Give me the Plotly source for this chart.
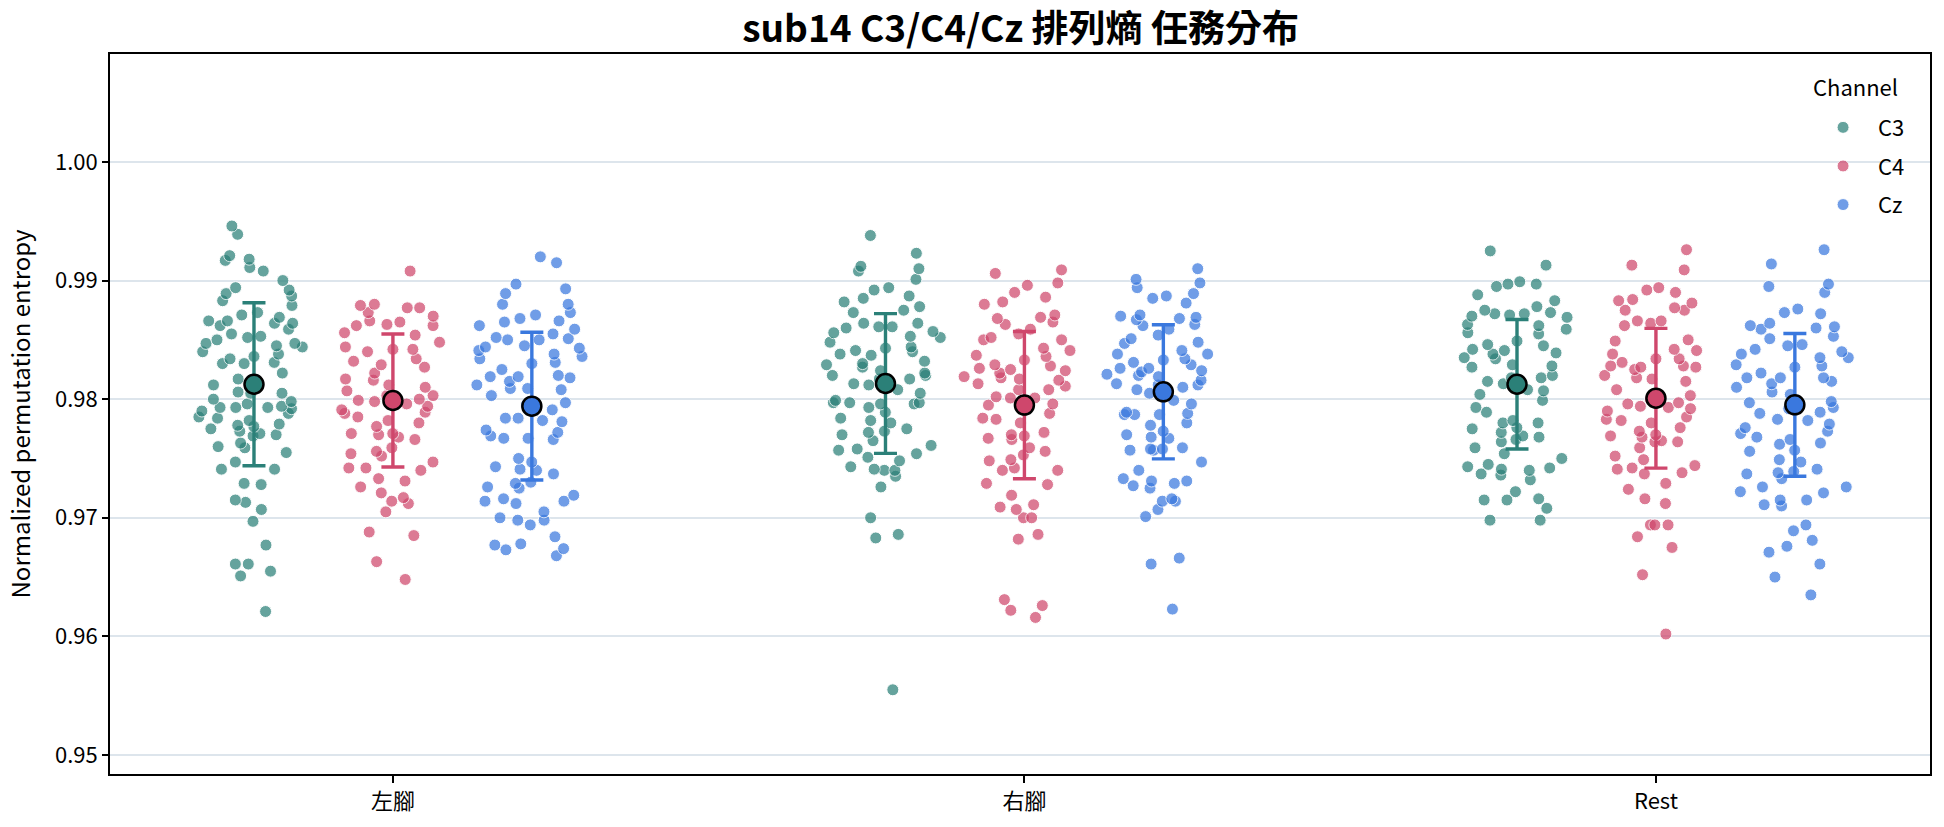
import plotly.graph_objects as go

# ---------------- data ----------------
tasks = ["左腳", "右腳", "Rest"]
channels = ["C3", "C4", "Cz"]

left_C3 = [0.9946, 0.9939, 0.9921, 0.9918, 0.9917, 0.9911, 0.9908, 0.9900, 0.9894, 0.9892,
           0.9889, 0.9887, 0.9883, 0.9879, 0.9873, 0.9871, 0.9869, 0.9866, 0.9866, 0.9864,
           0.9864, 0.9862, 0.9859, 0.9855, 0.9853, 0.9852, 0.9850, 0.9847, 0.9847, 0.9845,
           0.9844, 0.9840, 0.9838, 0.9836, 0.9834, 0.9831, 0.9830, 0.9830, 0.9822, 0.9817,
           0.9812, 0.9806, 0.9805, 0.9805, 0.9800, 0.9798, 0.9796, 0.9794, 0.9793, 0.9793,
           0.9793, 0.9792, 0.9790, 0.9788, 0.9785, 0.9784, 0.9782, 0.9779, 0.9778, 0.9777,
           0.9775, 0.9773, 0.9771, 0.9770, 0.9769, 0.9763, 0.9760, 0.9759, 0.9755, 0.9747,
           0.9741, 0.9741, 0.9729, 0.9728, 0.9715, 0.9713, 0.9707, 0.9697, 0.9677, 0.9661,
           0.9661, 0.9655, 0.9651, 0.9621]
left_C4 = [0.9908, 0.9879, 0.9880, 0.9877, 0.9877, 0.9873, 0.9870, 0.9866, 0.9865, 0.9863,
           0.9862, 0.9862, 0.9856, 0.9854, 0.9848, 0.9844, 0.9842, 0.9842, 0.9840, 0.9834,
           0.9832, 0.9829, 0.9827, 0.9822, 0.9817, 0.9816, 0.9812, 0.9810, 0.9807, 0.9803,
           0.9803, 0.9800, 0.9799, 0.9798, 0.9796, 0.9794, 0.9791, 0.9789, 0.9788, 0.9785,
           0.9782, 0.9780, 0.9777, 0.9771, 0.9771, 0.9770, 0.9768, 0.9766, 0.9759, 0.9756,
           0.9754, 0.9752, 0.9747, 0.9742, 0.9742, 0.9740, 0.9733, 0.9731, 0.9726, 0.9721,
           0.9717, 0.9714, 0.9712, 0.9705, 0.9688, 0.9685, 0.9663, 0.9648]
left_Cz = [0.9920, 0.9915, 0.9897, 0.9893, 0.9889, 0.9880, 0.9880, 0.9873, 0.9871, 0.9868,
           0.9866, 0.9865, 0.9862, 0.9859, 0.9855, 0.9852, 0.9851, 0.9850, 0.9850, 0.9845,
           0.9844, 0.9843, 0.9841, 0.9838, 0.9836, 0.9834, 0.9831, 0.9830, 0.9825, 0.9820,
           0.9819, 0.9819, 0.9818, 0.9815, 0.9812, 0.9809, 0.9809, 0.9808, 0.9803, 0.9797,
           0.9795, 0.9791, 0.9784, 0.9784, 0.9782, 0.9781, 0.9774, 0.9772, 0.9769, 0.9767,
           0.9767, 0.9766, 0.9750, 0.9747, 0.9743, 0.9741, 0.9740, 0.9737, 0.9730, 0.9729,
           0.9726, 0.9725, 0.9719, 0.9716, 0.9714, 0.9714, 0.9712, 0.9705, 0.9700, 0.9698,
           0.9698, 0.9694, 0.9684, 0.9678, 0.9677, 0.9674, 0.9673, 0.9668]
right_C3 = [0.9938, 0.9923, 0.9912, 0.9910, 0.9908, 0.9901, 0.9894, 0.9892, 0.9887, 0.9885,
            0.9882, 0.9878, 0.9875, 0.9873, 0.9864, 0.9864, 0.9861, 0.9861, 0.9860, 0.9857,
            0.9856, 0.9853, 0.9852, 0.9848, 0.9844, 0.9843, 0.9841, 0.9840, 0.9838, 0.9837,
            0.9832, 0.9830, 0.9829, 0.9827, 0.9824, 0.9822, 0.9820, 0.9820, 0.9817, 0.9817,
            0.9813, 0.9812, 0.9808, 0.9805, 0.9799, 0.9797, 0.9797, 0.9797, 0.9796, 0.9796,
            0.9793, 0.9789, 0.9784, 0.9782, 0.9780, 0.9775, 0.9773, 0.9772, 0.9770, 0.9765,
            0.9761, 0.9758, 0.9757, 0.9754, 0.9751, 0.9748, 0.9743, 0.9741, 0.9740, 0.9740,
            0.9735, 0.9726, 0.9700, 0.9686, 0.9683, 0.9555]
right_C4 = [0.9909, 0.9906, 0.9898, 0.9896, 0.9890, 0.9886, 0.9882, 0.9880, 0.9871, 0.9869,
            0.9868, 0.9865, 0.9863, 0.9859, 0.9855, 0.9852, 0.9850, 0.9850, 0.9843, 0.9841,
            0.9837, 0.9836, 0.9833, 0.9829, 0.9828, 0.9826, 0.9825, 0.9824, 0.9822, 0.9819,
            0.9818, 0.9817, 0.9816, 0.9813, 0.9811, 0.9808, 0.9808, 0.9802, 0.9801, 0.9801,
            0.9796, 0.9795, 0.9788, 0.9784, 0.9783, 0.9780, 0.9772, 0.9770, 0.9769, 0.9767,
            0.9766, 0.9759, 0.9756, 0.9753, 0.9749, 0.9748, 0.9742, 0.9740, 0.9740, 0.9729,
            0.9728, 0.9719, 0.9711, 0.9709, 0.9707, 0.9700, 0.9700, 0.9686, 0.9682, 0.9631,
            0.9626, 0.9622, 0.9616]
right_Cz = [0.9910, 0.9901, 0.9898, 0.9894, 0.9889, 0.9887, 0.9885, 0.9881, 0.9871, 0.9870,
            0.9869, 0.9868, 0.9867, 0.9863, 0.9862, 0.9859, 0.9854, 0.9851, 0.9848, 0.9847,
            0.9841, 0.9838, 0.9838, 0.9834, 0.9833, 0.9831, 0.9829, 0.9826, 0.9826, 0.9824,
            0.9823, 0.9821, 0.9820, 0.9819, 0.9816, 0.9813, 0.9812, 0.9812, 0.9810, 0.9808,
            0.9805, 0.9799, 0.9796, 0.9789, 0.9788, 0.9787, 0.9787, 0.9787, 0.9780, 0.9778,
            0.9773, 0.9770, 0.9768, 0.9767, 0.9759, 0.9758, 0.9758, 0.9757, 0.9757, 0.9747,
            0.9740, 0.9733, 0.9731, 0.9731, 0.9729, 0.9727, 0.9725, 0.9716, 0.9714, 0.9714,
            0.9707, 0.9701, 0.9666, 0.9661, 0.9623]
rest_C3 = [0.9925, 0.9913, 0.9899, 0.9897, 0.9897, 0.9895, 0.9888, 0.9883, 0.9878, 0.9875,
           0.9873, 0.9872, 0.9872, 0.9871, 0.9870, 0.9869, 0.9863, 0.9862, 0.9859, 0.9856,
           0.9855, 0.9849, 0.9846, 0.9845, 0.9842, 0.9841, 0.9839, 0.9838, 0.9835, 0.9834,
           0.9829, 0.9828, 0.9827, 0.9820, 0.9818, 0.9818, 0.9815, 0.9813, 0.9808, 0.9807,
           0.9804, 0.9799, 0.9793, 0.9789, 0.9782, 0.9780, 0.9780, 0.9776, 0.9775, 0.9772,
           0.9769, 0.9768, 0.9766, 0.9764, 0.9759, 0.9754, 0.9750, 0.9745, 0.9743, 0.9742,
           0.9741, 0.9740, 0.9737, 0.9736, 0.9732, 0.9722, 0.9716, 0.9715, 0.9715, 0.9708,
           0.9698, 0.9698]
rest_C4 = [0.9926, 0.9913, 0.9909, 0.9894, 0.9892, 0.9890, 0.9884, 0.9883, 0.9881, 0.9877,
           0.9875, 0.9875, 0.9866, 0.9866, 0.9864, 0.9862, 0.9850, 0.9849, 0.9842, 0.9841,
           0.9838, 0.9834, 0.9834, 0.9831, 0.9828, 0.9828, 0.9827, 0.9827, 0.9825, 0.9820,
           0.9818, 0.9817, 0.9815, 0.9808, 0.9803, 0.9800, 0.9797, 0.9796, 0.9794, 0.9793,
           0.9792, 0.9790, 0.9785, 0.9783, 0.9782, 0.9780, 0.9776, 0.9773, 0.9770, 0.9769,
           0.9768, 0.9765, 0.9764, 0.9764, 0.9759, 0.9752, 0.9749, 0.9744, 0.9742, 0.9741,
           0.9738, 0.9737, 0.9729, 0.9724, 0.9716, 0.9712, 0.9694, 0.9694, 0.9694, 0.9684,
           0.9675, 0.9652, 0.9602]
rest_Cz = [0.9926, 0.9914, 0.9897, 0.9895, 0.9890, 0.9876, 0.9873, 0.9872, 0.9864, 0.9862,
           0.9861, 0.9860, 0.9859, 0.9853, 0.9851, 0.9846, 0.9845, 0.9842, 0.9840, 0.9838,
           0.9835, 0.9835, 0.9829, 0.9828, 0.9827, 0.9822, 0.9818, 0.9818, 0.9818, 0.9815,
           0.9813, 0.9810, 0.9806, 0.9804, 0.9798, 0.9797, 0.9793, 0.9792, 0.9789, 0.9788,
           0.9783, 0.9782, 0.9779, 0.9776, 0.9773, 0.9771, 0.9768, 0.9766, 0.9763, 0.9762,
           0.9757, 0.9756, 0.9749, 0.9747, 0.9741, 0.9739, 0.9738, 0.9737, 0.9733, 0.9726,
           0.9726, 0.9722, 0.9721, 0.9715, 0.9715, 0.9711, 0.9710, 0.9694, 0.9689, 0.9681,
           0.9676, 0.9671, 0.9661, 0.9650, 0.9635]

# means and standard deviations (per channel, in task order)
mean_C3 = [0.98126, 0.98132, 0.98126]
mean_C4 = [0.97989, 0.97950, 0.98008]
mean_Cz = [0.97941, 0.98062, 0.97952]
sd_C3 = [0.00687, 0.00589, 0.00546]
sd_C4 = [0.00561, 0.00621, 0.00589]
sd_Cz = [0.00623, 0.00565, 0.00602]

# ---------------- styling ----------------
colors = {"C3": "#2b8078", "C4": "#cf476c", "Cz": "#3a78de"}
hue_offset = {"C3": -0.22, "C4": 0.0, "Cz": 0.22}
FONT = "Noto Sans CJK TC, Noto Sans, sans-serif"

points = {
    "C3": [left_C3, right_C3, rest_C3],
    "C4": [left_C4, right_C4, rest_C4],
    "Cz": [left_Cz, right_Cz, rest_Cz],
}
means = {"C3": mean_C3, "C4": mean_C4, "Cz": mean_Cz}
sds = {"C3": sd_C3, "C4": sd_C4, "Cz": sd_Cz}

fig = go.Figure()

# strip points (plotly box traces with all points jittered, box hidden)
for ch in channels:
    for ti, vals in enumerate(points[ch]):
        fig.add_trace(go.Box(
            x=[ti + hue_offset[ch]] * len(vals),
            y=vals,
            boxpoints="all",
            jitter=1,
            pointpos=0,
            width=0.2,
            fillcolor="rgba(0,0,0,0)",
            line=dict(width=0, color="rgba(0,0,0,0)"),
            marker=dict(size=12, color=colors[ch], opacity=0.72,
                        line=dict(width=1, color="white")),
            showlegend=False,
            hoveron="points",
            name=ch,
        ))

# mean ± SD
for ch in channels:
    fig.add_trace(go.Scatter(
        x=[ti + hue_offset[ch] for ti in range(len(tasks))],
        y=means[ch],
        mode="markers",
        marker=dict(size=19, color=colors[ch], line=dict(width=2.5, color="black")),
        error_y=dict(type="data", array=sds[ch], visible=True,
                     color=colors[ch], thickness=3.4, width=11.5),
        showlegend=False,
        name=ch,
    ))

# legend entries
for ch in channels:
    fig.add_trace(go.Scatter(
        x=[None], y=[None], mode="markers", name=ch, legendgroup=ch,
        marker=dict(size=12, color=colors[ch], opacity=0.72,
                    line=dict(width=1, color="white")),
        showlegend=True,
    ))

fig.update_layout(
    width=1944, height=827,
    margin=dict(l=110, r=14, t=54, b=51),
    paper_bgcolor="white", plot_bgcolor="white",
    font=dict(family=FONT, size=21, color="black"),
    title=dict(text="sub14 C3/C4/Cz 排列熵 任務分布", x=0.525, xanchor="center",
               y=0.965, yanchor="middle",
               font=dict(family=FONT, size=37, color="black", weight="bold")),
    boxmode="overlay",
    legend=dict(
        x=0.933, xanchor="left", y=0.927, yanchor="top",
        bgcolor="rgba(0,0,0,0)", font=dict(size=22),
        tracegroupgap=7, itemwidth=60,
    ),
    annotations=[dict(
        text="Channel", xref="paper", yref="paper", x=0.959, y=0.930,
        xanchor="center", yanchor="bottom", showarrow=False,
        font=dict(family=FONT, size=22, color="black"),
    )],
    showlegend=True,
)

fig.update_xaxes(
    range=[-0.448, 2.434],
    tickmode="array", tickvals=list(range(len(tasks))), ticktext=tasks,
    showgrid=False, zeroline=False,
    showline=True, linecolor="black", linewidth=1.8, mirror=True,
    ticks="outside", ticklen=7, tickwidth=1.5, tickcolor="black",
    tickfont=dict(size=22),
)
fig.update_yaxes(
    range=[0.9484, 1.0091],
    tickmode="array", tickvals=[0.95, 0.96, 0.97, 0.98, 0.99, 1.00],
    ticktext=["0.95", "0.96", "0.97", "0.98", "0.99", "1.00"],
    showgrid=True, gridcolor="#dde5ec", gridwidth=1.5, zeroline=False,
    showline=True, linecolor="black", linewidth=1.8, mirror=True,
    ticks="outside", ticklen=6, tickwidth=1.5, tickcolor="black",
    tickfont=dict(size=22),
    title=dict(text="Normalized permutation entropy", font=dict(size=24), standoff=18),
)

fig.write_html("out.html")
